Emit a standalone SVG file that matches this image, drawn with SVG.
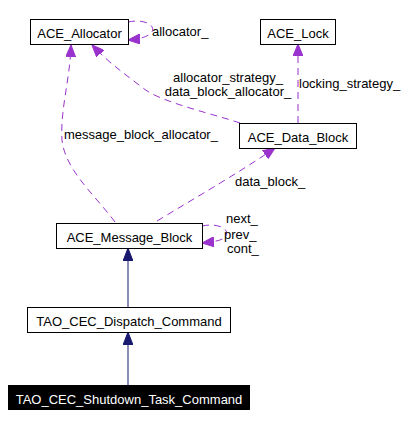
<svg xmlns="http://www.w3.org/2000/svg" width="410" height="427" viewBox="0 0 410 427">
<style>
text{font-family:"Liberation Sans",Arial,sans-serif;font-size:13px;fill:#000}
.box{fill:#fff;stroke:#000;stroke-width:1}
.mid{text-anchor:middle}
.use{fill:none;stroke:#9a32cd;stroke-width:1;stroke-dasharray:7,5}
.inh{fill:none;stroke:#191970;stroke-width:1}
</style>
<defs>
<marker id="pa" viewBox="0 0 12 10" refX="12" refY="5" markerWidth="12" markerHeight="10" markerUnits="userSpaceOnUse" orient="auto"><path d="M0,0 L12,5 L0,10 z" fill="#9a32cd" stroke="#9a32cd"/></marker>
<marker id="na" viewBox="0 0 13 10" refX="13" refY="5" markerWidth="13" markerHeight="10" markerUnits="userSpaceOnUse" orient="auto"><path d="M0,0 L13,5 L0,10 z" fill="#191970" stroke="#191970"/></marker>
</defs>
<rect width="410" height="427" fill="#fff"/>
<g id="connectors">
<path class="inh" d="M128,385 L128,332" marker-end="url(#na)"/>
<path class="inh" d="M128,307 L128,248" marker-end="url(#na)"/>
<path class="use" d="M128,22 C148,18 158,28 150,34 C146,37 140,39 128,40" marker-end="url(#pa)"/>
<path class="use" d="M298,123 L298,44" marker-end="url(#pa)"/>
<path class="use" d="M240,123 C210,113 160,102 143,88 C125,74 110,64 92,45" marker-end="url(#pa)"/>
<path class="use" d="M115,222 C95,195 65,170 62,140 C60,110 70,80 71,45" marker-end="url(#pa)"/>
<path class="use" d="M157,221 C200,195 240,172 275,148" marker-end="url(#pa)"/>
<path class="use" d="M202,226 C222,222 232,232 224,238 C220,241 212,242 202,243" marker-end="url(#pa)"/>
<text x="152" y="36">allocator_</text>
<text x="228" y="82" class="mid">allocator_strategy_</text>
<text x="228" y="96" class="mid">data_block_allocator_</text>
<text x="299" y="88">locking_strategy_</text>
<text x="64" y="139">message_block_allocator_</text>
<text x="235" y="186">data_block_</text>
<text x="226" y="223">next_</text>
<text x="224" y="239">prev_</text>
<text x="227" y="253">cont_</text>
</g>
<g id="ACE_Allocator"><rect class="box" x="30.5" y="19.5" width="98" height="25"/><text x="79.5" y="38" class="mid">ACE_Allocator</text></g>
<g id="ACE_Lock"><rect class="box" x="260.5" y="19.5" width="75" height="25"/><text x="298" y="38" class="mid">ACE_Lock</text></g>
<g id="ACE_Data_Block"><rect class="box" x="239.5" y="123.5" width="117" height="25"/><text x="298" y="142" class="mid">ACE_Data_Block</text></g>
<g id="ACE_Message_Block"><rect class="box" x="56.5" y="223.5" width="146" height="25"/><text x="129.5" y="242" class="mid">ACE_Message_Block</text></g>
<g id="TAO_CEC_Dispatch_Command"><rect class="box" x="27.5" y="307.5" width="203" height="25"/><text x="129" y="326" class="mid">TAO_CEC_Dispatch_Command</text></g>
<g id="TAO_CEC_Shutdown_Task_Command"><rect x="8" y="385" width="242" height="25" fill="#000"/><text x="129" y="404" class="mid" style="fill:#fff">TAO_CEC_Shutdown_Task_Command</text></g>
</svg>
